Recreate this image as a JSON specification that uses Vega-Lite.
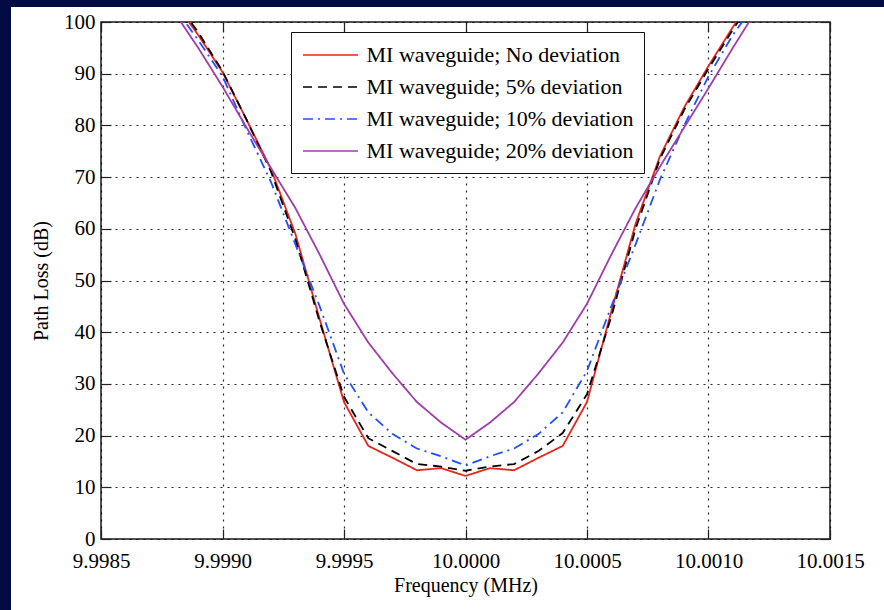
{
  "$schema": "https://vega.github.io/schema/vega-lite/v6.json",
  "background": "white",
  "padding": 0,
  "spacing": 0,
  "bounds": "flush",
  "config": {
    "view": {"stroke": null},
    "font": "Liberation Serif",
    "axis": {
      "labelFont": "Liberation Serif",
      "titleFont": "Liberation Serif",
      "labelColor": "black",
      "titleColor": "black",
      "labelFontSize": 21,
      "titleFontSize": 20,
      "titleFontWeight": "normal",
      "tickColor": "#222",
      "tickWidth": 1.2,
      "domain": false,
      "gridColor": "black",
      "gridDash": [2, 5],
      "gridWidth": 1.2,
      "gridOpacity": 0.85
    },
    "legend": {
      "labelFont": "Liberation Serif",
      "labelFontSize": 22,
      "labelColor": "black",
      "labelLimit": 400,
      "symbolType": "M-0.957,0H3.826",
      "symbolSize": 529,
      "symbolStrokeWidth": 1.6,
      "padding": 10.5,
      "rowPadding": 8,
      "labelOffset": 40,
      "strokeColor": "#111",
      "fillColor": "white"
    }
  },
  "vconcat": [
    {
      "width": 884,
      "height": 7,
      "view": {"fill": "#020b42", "stroke": null},
      "data": {"values": [{"a": 0}]},
      "mark": {"type": "point", "opacity": 0},
      "encoding": {}
    },
    {
      "spacing": 90,
      "bounds": "flush",
      "hconcat": [
        {
          "width": 11,
          "height": 603,
          "view": {"fill": "#020b42", "stroke": null},
          "data": {"values": [{"a": 0}]},
          "mark": {"type": "point", "opacity": 0},
          "encoding": {}
        },
        {
          "spacing": 0,
          "bounds": "flush",
          "vconcat": [
            {
              "width": 729,
              "height": 15,
              "data": {"values": [{"a": 0}]},
              "mark": {"type": "point", "opacity": 0},
              "encoding": {}
            },
            {
              "width": 729,
              "height": 517,
              "view": {"stroke": "#1a1a1a", "strokeWidth": 1.5, "fill": "white"},
              "data": {
                "values": [
                  {"f": 9.9988, "MI waveguide; No deviation": 104, "MI waveguide; 5% deviation": 104.5, "MI waveguide; 10% deviation": 103, "MI waveguide; 20% deviation": 102},
                  {"f": 9.9989, "MI waveguide; No deviation": 97.5, "MI waveguide; 5% deviation": 98, "MI waveguide; 10% deviation": 96.5, "MI waveguide; 20% deviation": 95},
                  {"f": 9.999, "MI waveguide; No deviation": 90.3, "MI waveguide; 5% deviation": 90.5, "MI waveguide; 10% deviation": 89.5, "MI waveguide; 20% deviation": 87.5},
                  {"f": 9.9991, "MI waveguide; No deviation": 81, "MI waveguide; 5% deviation": 81, "MI waveguide; 10% deviation": 79, "MI waveguide; 20% deviation": 79.5},
                  {"f": 9.9992, "MI waveguide; No deviation": 71.5, "MI waveguide; 5% deviation": 71, "MI waveguide; 10% deviation": 69, "MI waveguide; 20% deviation": 71.7},
                  {"f": 9.9993, "MI waveguide; No deviation": 59, "MI waveguide; 5% deviation": 58, "MI waveguide; 10% deviation": 57, "MI waveguide; 20% deviation": 64},
                  {"f": 9.9994, "MI waveguide; No deviation": 42.5, "MI waveguide; 5% deviation": 42, "MI waveguide; 10% deviation": 45, "MI waveguide; 20% deviation": 55},
                  {"f": 9.9995, "MI waveguide; No deviation": 26.5, "MI waveguide; 5% deviation": 27.5, "MI waveguide; 10% deviation": 32, "MI waveguide; 20% deviation": 45.5},
                  {"f": 9.9996, "MI waveguide; No deviation": 18, "MI waveguide; 5% deviation": 19.5, "MI waveguide; 10% deviation": 24.5, "MI waveguide; 20% deviation": 38},
                  {"f": 9.9997, "MI waveguide; No deviation": 15.7, "MI waveguide; 5% deviation": 17, "MI waveguide; 10% deviation": 20.3, "MI waveguide; 20% deviation": 32},
                  {"f": 9.9998, "MI waveguide; No deviation": 13.3, "MI waveguide; 5% deviation": 14.5, "MI waveguide; 10% deviation": 17.5, "MI waveguide; 20% deviation": 26.5},
                  {"f": 9.9999, "MI waveguide; No deviation": 13.7, "MI waveguide; 5% deviation": 14, "MI waveguide; 10% deviation": 16, "MI waveguide; 20% deviation": 22.5},
                  {"f": 10.0, "MI waveguide; No deviation": 12.2, "MI waveguide; 5% deviation": 13.2, "MI waveguide; 10% deviation": 14.2, "MI waveguide; 20% deviation": 19.2},
                  {"f": 10.0001, "MI waveguide; No deviation": 13.7, "MI waveguide; 5% deviation": 14, "MI waveguide; 10% deviation": 16, "MI waveguide; 20% deviation": 22.5},
                  {"f": 10.0002, "MI waveguide; No deviation": 13.3, "MI waveguide; 5% deviation": 14.5, "MI waveguide; 10% deviation": 17.5, "MI waveguide; 20% deviation": 26.5},
                  {"f": 10.0003, "MI waveguide; No deviation": 15.7, "MI waveguide; 5% deviation": 17, "MI waveguide; 10% deviation": 20.3, "MI waveguide; 20% deviation": 32},
                  {"f": 10.0004, "MI waveguide; No deviation": 18, "MI waveguide; 5% deviation": 20.5, "MI waveguide; 10% deviation": 24.5, "MI waveguide; 20% deviation": 38},
                  {"f": 10.0005, "MI waveguide; No deviation": 26.5, "MI waveguide; 5% deviation": 28, "MI waveguide; 10% deviation": 32.5, "MI waveguide; 20% deviation": 45.5},
                  {"f": 10.0006, "MI waveguide; No deviation": 44, "MI waveguide; 5% deviation": 43, "MI waveguide; 10% deviation": 45, "MI waveguide; 20% deviation": 55},
                  {"f": 10.0007, "MI waveguide; No deviation": 61, "MI waveguide; 5% deviation": 60, "MI waveguide; 10% deviation": 57, "MI waveguide; 20% deviation": 64},
                  {"f": 10.0008, "MI waveguide; No deviation": 74, "MI waveguide; 5% deviation": 73.5, "MI waveguide; 10% deviation": 69.5, "MI waveguide; 20% deviation": 72},
                  {"f": 10.0009, "MI waveguide; No deviation": 83.5, "MI waveguide; 5% deviation": 83, "MI waveguide; 10% deviation": 80, "MI waveguide; 20% deviation": 79.6},
                  {"f": 10.001, "MI waveguide; No deviation": 91.5, "MI waveguide; 5% deviation": 91, "MI waveguide; 10% deviation": 89.5, "MI waveguide; 20% deviation": 87.2},
                  {"f": 10.0011, "MI waveguide; No deviation": 99, "MI waveguide; 5% deviation": 98.5, "MI waveguide; 10% deviation": 97.5, "MI waveguide; 20% deviation": 95},
                  {"f": 10.0012, "MI waveguide; No deviation": 106, "MI waveguide; 5% deviation": 105.5, "MI waveguide; 10% deviation": 104, "MI waveguide; 20% deviation": 102.5}
                ]
              },
              "transform": [
                {"fold": ["MI waveguide; No deviation", "MI waveguide; 5% deviation", "MI waveguide; 10% deviation", "MI waveguide; 20% deviation"], "as": ["series", "loss"]}
              ],
              "layer": [
                {
                  "mark": {"type": "line", "clip": true, "strokeWidth": 1.8},
                  "encoding": {
                    "x": {
                      "field": "f", "type": "quantitative",
                      "scale": {"domain": [9.9985, 10.0015], "nice": false, "zero": false},
                      "axis": {
                        "title": "Frequency (MHz)",
                        "values": [9.9985, 9.999, 9.9995, 10.0, 10.0005, 10.001, 10.0015],
                        "format": ".4f",
                        "labelFlush": false,
                        "labelOverlap": false,
                        "grid": true,
                        "tickSize": -10,
                        "labelPadding": 21,
                        "titlePadding": 4
                      }
                    },
                    "y": {
                      "field": "loss", "type": "quantitative",
                      "scale": {"domain": [0, 100], "nice": false},
                      "axis": {
                        "title": "Path Loss (dB)",
                        "values": [0, 10, 20, 30, 40, 50, 60, 70, 80, 90, 100],
                        "grid": true,
                        "tickSize": -10,
                        "labelPadding": 16,
                        "titlePadding": 12
                      }
                    },
                    "color": {
                      "field": "series", "type": "nominal",
                      "scale": {
                        "domain": ["MI waveguide; No deviation", "MI waveguide; 5% deviation", "MI waveguide; 10% deviation", "MI waveguide; 20% deviation"],
                        "range": ["#e8261c", "#000000", "#1e50ff", "#a03caa"]
                      },
                      "legend": {"title": null, "orient": "none", "legendX": 291, "legendY": 32}
                    },
                    "strokeDash": {
                      "field": "series", "type": "nominal",
                      "scale": {
                        "domain": ["MI waveguide; No deviation", "MI waveguide; 5% deviation", "MI waveguide; 10% deviation", "MI waveguide; 20% deviation"],
                        "range": [[1, 0], [9, 6], [10, 5, 2, 5], [1, 0]]
                      },
                      "legend": {"title": null, "orient": "none", "legendX": 291, "legendY": 32}
                    }
                  }
                },
                {
                  "mark": {"type": "point", "opacity": 0, "clip": true},
                  "encoding": {
                    "x": {
                      "field": "f", "type": "quantitative",
                      "axis": {"orient": "top", "title": null, "labels": false, "grid": false, "tickSize": -10, "values": [9.9985, 9.999, 9.9995, 10.0, 10.0005, 10.001, 10.0015]}
                    },
                    "y": {
                      "field": "loss", "type": "quantitative",
                      "axis": {"orient": "right", "title": null, "labels": false, "grid": false, "tickSize": -10, "values": [0, 10, 20, 30, 40, 50, 60, 70, 80, 90, 100]}
                    }
                  }
                }
              ],
              "resolve": {"axis": {"x": "independent", "y": "independent"}}
            }
          ]
        }
      ]
    }
  ]
}
